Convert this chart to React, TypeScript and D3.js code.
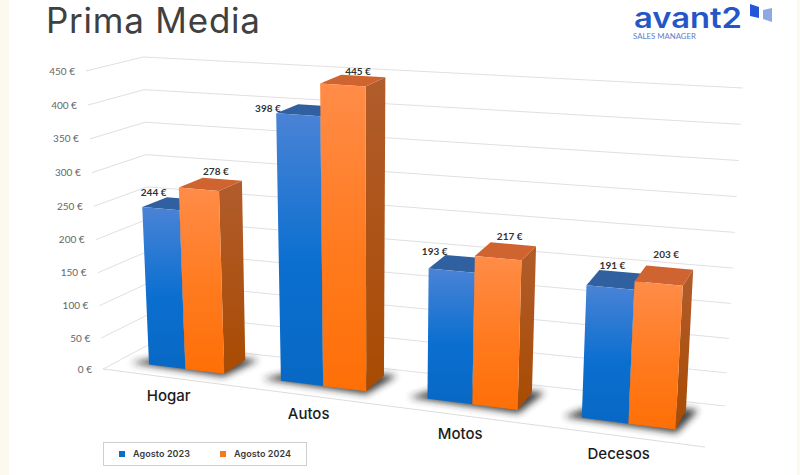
import * as d3 from "d3";

const categories = ["Hogar", "Autos", "Motos", "Decesos"];
const seriesNames = ["Agosto 2023", "Agosto 2024"];
const values2023 = [244, 398, 193, 191];
const values2024 = [278, 445, 217, 203];
const yTicks = [0, 50, 100, 150, 200, 250, 300, 350, 400, 450];

type Pt = [number, number];

// the chart box as it appears on screen, floor then top
const floor = { fl: [103, 369], bl: [152, 343], br: [725, 406], fr: [705, 447] };
const top = { fl: [86, 71], bl: [143, 57], br: [743, 88], fr: [724, 114] };

const hScale = d3.scalePow().exponent(1.03).domain([0, 450]).range([0, 1]);
// bands get wider towards the viewer on the right
const uScale = d3.scalePow().exponent(1.11).domain([0, 1]).range([0.015, 0.995]);
const band = d3.scaleBand().domain(categories).range([0, 1]).paddingInner(0.41).paddingOuter(0.205);
const inner = d3.scaleBand().domain(seriesNames).range([0, band.bandwidth()]);

const lerp = (a: number[], b: number[], t: number): Pt => [a[0] + (b[0] - a[0]) * t, a[1] + (b[1] - a[1]) * t];

function project(u: number, v: number, val: number): Pt {
  const h = hScale(val);
  const bottom = lerp(lerp(floor.fl, floor.fr, u), lerp(floor.bl, floor.br, u), v);
  const upper = lerp(lerp(top.fl, top.fr, u), lerp(top.bl, top.br, u), v);
  return lerp(bottom, upper, h);
}

const poly = (pts: Pt[]) => d3.line()(pts) + "Z";

const v0 = 0.32;
const v1 = 0.8;

// hand placed labels in the original, so they get a nudge from the bar top
const nudge2023: Pt[] = [[-19, -11], [-41, -2], [-25, -12], [-4, -14]];
const nudge2024: Pt[] = [[5.5, -13], [5, -9], [4, -15], [2, -21]];

const blue = { grad: "gBlue", top: "#30609f", side: "#2a5590", key: "#0a6fc8" };
const orange = { grad: "gOrange", top: "#cf6431", side: "gSide", key: "#f47a1c" };

function Bar({ cat, name, val, c }: { cat: string; name: string; val: number; c: typeof blue }) {
  const a = uScale((band(cat) ?? 0) + (inner(name) ?? 0));
  const b = uScale((band(cat) ?? 0) + (inner(name) ?? 0) + inner.bandwidth());
  const front = [project(a, v0, 0), project(b, v0, 0), project(b, v0, val), project(a, v0, val)] as Pt[];
  const side = [project(b, v0, 0), project(b, v1, 0), project(b, v1, val), project(b, v0, val)] as Pt[];
  const lid = [project(a, v0, val), project(b, v0, val), project(b, v1, val), project(a, v1, val)] as Pt[];
  const sideFill = c.side.startsWith("g") ? `url(#${c.side})` : c.side;
  return (
    <g>
      <path d={poly(side)} fill={sideFill} />
      <path d={poly(lid)} fill={c.top} />
      <path d={poly(front)} fill={`url(#${c.grad})`} />
    </g>
  );
}

export default function App() {
  return (
    <svg width={800} height={475} style={{ position: "absolute", left: 0, top: 0, display: "block" }}>
      <defs>
        <linearGradient id="gBlue" x1="0" y1="0" x2="0" y2="1">
          <stop offset="0" stopColor="#4a83d6" />
          <stop offset="0.55" stopColor="#0b6fd0" />
          <stop offset="1" stopColor="#0868c4" />
        </linearGradient>
        <linearGradient id="gOrange" x1="0" y1="0" x2="0" y2="1">
          <stop offset="0" stopColor="#ff8c48" />
          <stop offset="0.55" stopColor="#ff7a1e" />
          <stop offset="1" stopColor="#fe6f06" />
        </linearGradient>
        <linearGradient id="gSide" x1="0" y1="0" x2="0" y2="1">
          <stop offset="0" stopColor="#b15c2c" />
          <stop offset="1" stopColor="#a84b02" />
        </linearGradient>
        <filter id="soft" x="-30%" y="-60%" width="160%" height="220%">
          <feGaussianBlur stdDeviation="3.5" />
        </filter>
      </defs>

      <rect width={800} height={475} fill="#fdf9ef" />
      <rect x={9} y={0} width={788} height={475} fill="#ffffff" />

      <text x={46} y={33} fontFamily="Inter" fontSize={35} fill="#404040" textLength={214} lengthAdjust="spacing">
        Prima Media
      </text>

      {/* logo */}
      <text x={634} y={27.5} fontFamily="Inter" fontWeight={600} fontSize={28} fill="#2456c8" textLength={108} lengthAdjust="spacingAndGlyphs">
        avant2
      </text>
      <text x={633} y={38.5} fontFamily="Lato" fontSize={8} fill="#5f7ccb" textLength={63} lengthAdjust="spacingAndGlyphs">
        SALES MANAGER
      </text>
      <path d="M750 4L759 7L759 18L750 16Z" fill="#2456d8" />
      <path d="M763 10L772 8L772 22L763 19Z" fill="#8ea8e4" />

      {/* grid walls */}
      {yTicks.map((t) => {
        const f = project(0, 0, t);
        const b = project(0, 1, t);
        const r = project(1, 1, t);
        return (
          <g key={t}>
            <path d={d3.line()([f, b, r]) ?? ""} fill="none" stroke="#e0e0e0" strokeWidth={1} />
            <text x={f[0] - 11} y={f[1]} dy="0.35em" textAnchor="end" fontFamily="Lato" fontSize={10} fill="#666666">
              {t} €
            </text>
          </g>
        );
      })}
      <path d={d3.line()([project(0, 0, 0), project(1, 0, 0)]) ?? ""} stroke="#dcdcdc" fill="none" />

      {categories.map((cat, i) => {
        const a = uScale(band(cat) ?? 0);
        const b = uScale((band(cat) ?? 0) + band.bandwidth());
        const shadow = [
          project(a - 0.03, v0 - 0.02, 0),
          project(b + 0.005, v0 - 0.08, 0),
          project(b + 0.02, v1 + 0.04, 0),
          project(a + 0.02, v1, 0),
        ] as Pt[];
        const mid = uScale((band(cat) ?? 0) + band.bandwidth() / 2);
        const lab = project(mid, 0, 0);
        const centre = (name: string) => uScale((band(cat) ?? 0) + (inner(name) ?? 0) + inner.bandwidth() / 2);
        const p23 = project(centre(seriesNames[0]), (v0 + v1) / 2, values2023[i]);
        const p24 = project(centre(seriesNames[1]), (v0 + v1) / 2, values2024[i]);
        return (
          <g key={cat}>
            <path d={poly(shadow)} fill="#222222" opacity={0.85} filter="url(#soft)" />
            <Bar cat={cat} name={seriesNames[0]} val={values2023[i]} c={blue} />
            <Bar cat={cat} name={seriesNames[1]} val={values2024[i]} c={orange} />
            <text x={p23[0] + nudge2023[i][0]} y={p23[1] + nudge2023[i][1]} dy="0.35em" textAnchor="middle" fontFamily="Lato" fontWeight={700} fontSize={10} fill="#333333">
              {values2023[i]} €
            </text>
            <text x={p24[0] + nudge2024[i][0]} y={p24[1] + nudge2024[i][1]} dy="0.35em" textAnchor="middle" fontFamily="Lato" fontWeight={700} fontSize={10} fill="#333333">
              {values2024[i]} €
            </text>
            <text x={lab[0] - 2} y={lab[1] + 18} dy="0.35em" textAnchor="middle" fontFamily="Inter" fontWeight={500} fontSize={15} fill="#1c1c1c">
              {cat}
            </text>
          </g>
        );
      })}

      {/* legend */}
      <rect x={103.5} y={442.5} width={203} height={23} fill="#ffffff" stroke="#cfcfcf" />
      {seriesNames.map((name, i) => (
        <g key={name} transform={`translate(${119 + i * 101},451)`}>
          <rect width={6} height={6} fill={i === 0 ? blue.key : orange.key} />
          <text x={14} y={3} dy="0.35em" fontFamily="Inter" fontWeight={600} fontSize={9} fill="#3a3a3a" textLength={57}>
            {name}
          </text>
        </g>
      ))}
    </svg>
  );
}
